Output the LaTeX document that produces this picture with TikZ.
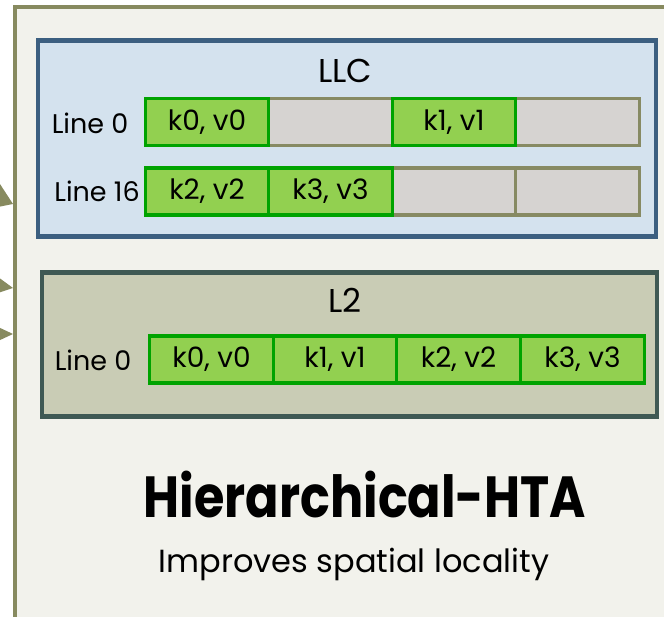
\documentclass[tikz,border=0pt]{standalone}
\usepackage{fontspec}
\setmainfont{Poppins}
\newfontfamily\boldface[FakeStretch=0.85]{Poppins Bold}
\definecolor{panelfill}{HTML}{F2F2EC}
\definecolor{panelline}{HTML}{878A5F}
\definecolor{llcfill}{HTML}{D4E2EE}
\definecolor{llcline}{HTML}{3C5F80}
\definecolor{ltwofill}{HTML}{C9CCB5}
\definecolor{ltwoline}{HTML}{3F5954}
\definecolor{kvfill}{HTML}{92D050}
\definecolor{kvline}{HTML}{00A300}
\definecolor{emptyfill}{HTML}{D6D3D1}
\definecolor{emptyline}{HTML}{878A63}
\tikzset{
  cell/.style={rectangle, minimum width=123.5pt, minimum height=47pt, inner sep=0pt, line width=3.2pt},
  kvcell/.style={cell, draw=kvline, fill=kvfill, font=\fontsize{28}{30}\selectfont},
  emptycell/.style={cell, draw=emptyline, fill=emptyfill},
  cachebox/.style={rectangle, line width=4.5pt},
  rowlabel/.style={anchor=base, inner sep=0pt, font=\fontsize{27}{30}\selectfont},
  boxtitle/.style={anchor=base, inner sep=0pt, font=\fontsize{33}{36}\selectfont},
}
\begin{document}
\begin{tikzpicture}[x=1pt, y=-1pt]
\useasboundingbox (0,0) rectangle (664,617);
% outer panel (continues past the right and bottom edges)
\draw[panelline, line width=4.5pt, fill=panelfill] (15.2,7.2) rectangle (700,660);
% incoming arrowheads on the left edge
\fill[panelline] (-2,181) -- (13,204) -- (-2,207) -- cycle;
\fill[panelline] (-2,277) -- (13,288) -- (-2,293) -- cycle;
\fill[panelline] (-2,327) -- (13,334) -- (-2,341) -- cycle;

% LLC
\node[cachebox, draw=llcline, fill=llcfill, minimum width=618pt, minimum height=196pt, anchor=north west] (llc) at (35.5,38.5) {};
\node[boxtitle] (llct) at (345,83) {LLC};
\node[rowlabel] (l0) at (90,134) {Line 0};
\node[rowlabel] (l16) at (97,202) {Line 16};
\foreach \i/\x in {1/207,2/330.5,3/454,4/577.5}{
  \node[emptycell] (a\i) at (\x,122) {};
  \node[emptycell] (b\i) at (\x,191.5) {};
}
\node[kvcell] (a1k) at (207,122) {k0, v0};
\node[kvcell] (a3k) at (454,122) {k1, v1};
\node[kvcell] (b1k) at (207,191.5) {k2, v2};
\node[kvcell] (b2k) at (330.5,191.5) {k3, v3};

% L2
\node[cachebox, draw=ltwoline, fill=ltwofill, minimum width=615pt, minimum height=144pt, anchor=north west] (l2) at (39.5,270.5) {};
\node[boxtitle] (l2t) at (345,313) {L2};
\node[rowlabel] (m0) at (93,371) {Line 0};
\node[kvcell] (c1) at (211.5,359.5) {k0, v0};
\node[kvcell] (c2) at (335,359.5) {k1, v1};
\node[kvcell] (c3) at (458.5,359.5) {k2, v2};
\node[kvcell] (c4) at (582.5,359.5) {k3, v3};

% caption
\node[anchor=base, inner sep=0pt, font=\boldface\fontsize{58}{62}\selectfont] (title) at (365,517) {Hierarchical-HTA};
\node[anchor=base, inner sep=0pt, font=\fontsize{32}{36}\selectfont] (sub) at (354,572) {Improves spatial locality};
\end{tikzpicture}
\end{document}
